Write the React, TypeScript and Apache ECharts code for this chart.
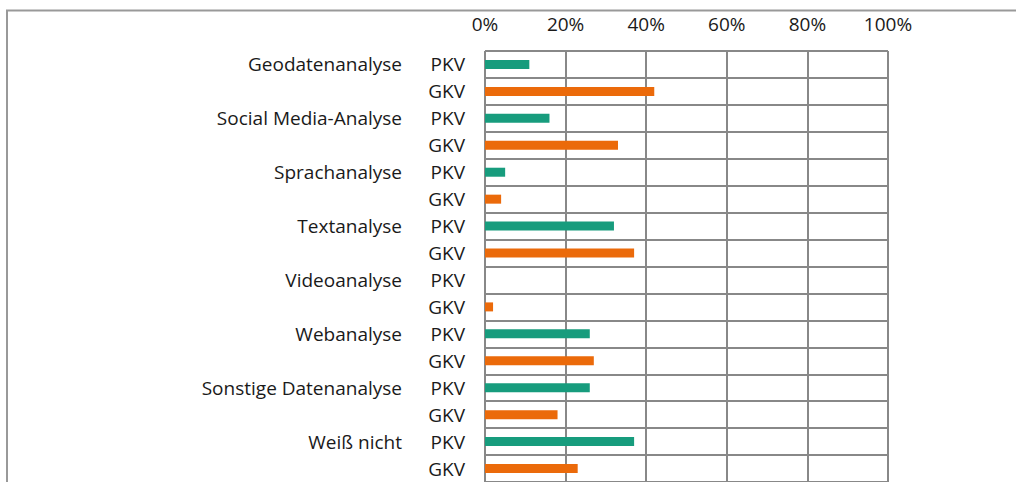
import React, { useEffect, useRef } from "react";
import * as echarts from "echarts";

const groups = [
  "Geodatenanalyse",
  "Social Media-Analyse",
  "Sprachanalyse",
  "Textanalyse",
  "Videoanalyse",
  "Webanalyse",
  "Sonstige Datenanalyse",
  "Weiß nicht",
];
const kinds = ["PKV", "GKV"];
const pkvValues = [11, 16, 5, 32, 0, 26, 26, 37];
const gkvValues = [42, 33, 4, 37, 2, 27, 18, 23];
const xTicks = [0, 20, 40, 60, 80, 100];

const GREEN = "#179c7d";
const ORANGE = "#eb6a0a";
const FONT = "'Open Sans', sans-serif";

export default function App() {
  const ref = useRef<HTMLDivElement>(null);
  useEffect(() => {
    document.body.style.margin = "0";
    const chart = echarts.init(ref.current!, undefined, { renderer: "svg" });
    const rowLabels: string[] = [];
    const groupLabels: string[] = [];
    const data: any[] = [];
    groups.forEach((g, i) => {
      kinds.forEach((k, j) => {
        rowLabels.push(k);
        groupLabels.push(j === 0 ? g : "");
        const v = j === 0 ? pkvValues[i] : gkvValues[i];
        data.push({ value: v, itemStyle: { color: j === 0 ? GREEN : ORANGE } });
      });
    });
    chart.setOption({
      animation: false,
      grid: { left: 485, top: 51, width: 403, height: 432 },
      xAxis: {
        type: "value",
        position: "top",
        min: xTicks[0],
        max: xTicks[xTicks.length - 1],
        interval: 20,
        axisLine: { show: false },
        axisTick: { show: false },
        axisLabel: {
          formatter: "{value}%",
          color: "#1a1a1a",
          fontFamily: FONT,
          fontSize: 19,
          margin: 18,
        },
        splitLine: { show: true, lineStyle: { color: "#888", width: 2 } },
      },
      yAxis: [
        {
          type: "category",
          inverse: true,
          data: rowLabels,
          axisLine: { show: false },
          axisTick: { show: false },
          axisLabel: {
            color: "#1a1a1a",
            fontFamily: FONT,
            fontSize: 19,
            margin: 20,
            interval: 0,
          },
          splitLine: { show: true, interval: 0, lineStyle: { color: "#888", width: 2 } },
        },
        {
          type: "category",
          inverse: true,
          position: "left",
          data: groupLabels,
          axisLine: { show: false },
          axisTick: { show: false },
          axisLabel: {
            color: "#1a1a1a",
            fontFamily: FONT,
            fontSize: 19,
            margin: 83,
            interval: 0,
          },
          splitLine: { show: false },
        },
      ],
      series: [
        {
          type: "bar",
          yAxisIndex: 0,
          data,
          barWidth: 9,
        },
      ],
      graphic: [
        {
          type: "polyline",
          shape: { points: [[7, 482], [7, 10.5], [1016, 10.5]] },
          style: { stroke: "#999", lineWidth: 2, fill: null },
          silent: true,
        },
      ],
    });
    return () => chart.dispose();
  }, []);
  return <div ref={ref} style={{ width: 1016, height: 482 }} />;
}
